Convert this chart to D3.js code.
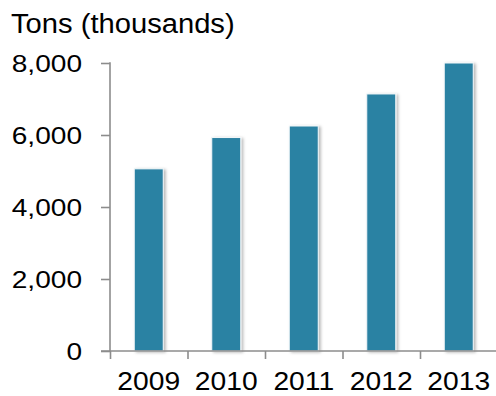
<!DOCTYPE html>
<html>
<head>
<meta charset="utf-8">
<script src="https://cdn.jsdelivr.net/npm/d3@7"></script>
<style>
  html, body { margin: 0; padding: 0; background: #fff; }
  svg { display: block; }
  text { font-family: "Liberation Sans", Arial, sans-serif; fill: #000; }
</style>
</head>
<body>
<svg id="chart" width="496" height="396"></svg>
<script>
const years = ["2009", "2010", "2011", "2012", "2013"];
const tons = [5060, 5930, 6250, 7140, 8000];
const yTicks = [0, 2000, 4000, 6000, 8000];
const yTitle = "Tons (thousands)";

const svg = d3.select("#chart");
const axisColor = "#8c8c8c";

const x = d3.scaleBand().domain(years).range([110, 497.5]).paddingInner(0.626).paddingOuter(0.313);
const y = d3.scaleLinear().domain([0, 8000]).range([351, 63]);

// shadow filter
const defs = svg.append("defs");
const f = defs.append("filter").attr("id", "sh").attr("x", "-30%").attr("y", "-10%").attr("width", "160%").attr("height", "120%");
f.append("feDropShadow").attr("dx", 2).attr("dy", 1).attr("stdDeviation", 1.6)
  .attr("flood-color", "#000").attr("flood-opacity", 0.28);

// bars
svg.append("g").selectAll("rect").data(years).join("rect")
  .attr("x", d => x(d))
  .attr("y", (d, i) => y(tons[i]))
  .attr("width", x.bandwidth())
  .attr("height", (d, i) => y(0) - y(tons[i]))
  .attr("fill", "#2c82a3")
  .attr("stroke", "#f2f7f9")
  .attr("stroke-width", 1)
  .attr("filter", "url(#sh)");

// y axis
const yAxis = d3.axisLeft(y).tickValues(yTicks).tickSize(9).tickFormat("");
const gy = svg.append("g").attr("transform", "translate(110,0)").call(yAxis);
gy.select(".domain").remove();
gy.selectAll(".tick line").attr("stroke", axisColor).attr("stroke-width", 1.6);
svg.append("line").attr("x1", 110).attr("x2", 110).attr("y1", y(8000) - 0.8).attr("y2", y(0))
  .attr("stroke", axisColor).attr("stroke-width", 1.6);

// x axis
const xAxis = d3.axisBottom(d3.scaleLinear().domain([110, 497.5]).range([110, 497.5]))
  .tickValues(years.map((d, i) => 110 + i * x.step())).tickSize(8).tickFormat("");
const gx = svg.append("g").attr("transform", `translate(0,${y(0)})`).call(xAxis);
gx.select(".domain").remove();
gx.selectAll(".tick line").attr("stroke", axisColor).attr("stroke-width", 1.6);
svg.append("line").attr("x1", 101).attr("x2", 496).attr("y1", y(0)).attr("y2", y(0))
  .attr("stroke", axisColor).attr("stroke-width", 1.6);

// y labels
svg.append("g").selectAll("text").data(yTicks).join("text")
  .attr("transform", d => `translate(82,${y(d) + 8.5})scale(1.17,1)`)
  .attr("text-anchor", "end")
  .style("font-size", "24px")
  .text(d => d3.format(",")(d));

// x labels
svg.append("g").selectAll("text").data(years).join("text")
  .attr("transform", d => `translate(${x(d) + x.bandwidth() / 2},390.3)scale(1.13,1)`)
  .attr("text-anchor", "middle")
  .style("font-size", "25px")
  .text(d => d);

// title
svg.append("text")
  .attr("transform", "translate(11,32.5)scale(1.08,1)")
  .style("font-size", "27px")
  .text(yTitle);
</script>
</body>
</html>
